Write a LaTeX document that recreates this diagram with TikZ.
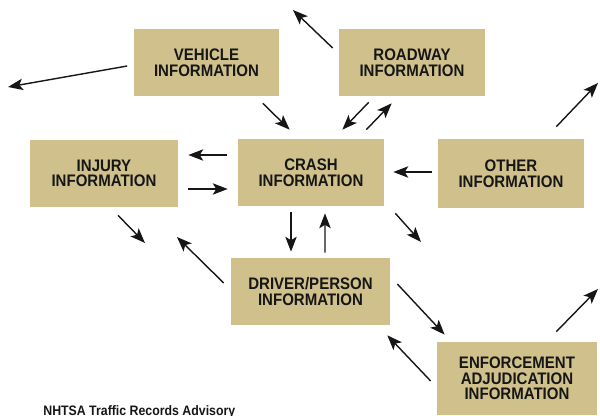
\documentclass[tikz,border=0pt]{standalone}
\usepackage{fontspec}
\usepackage{xcolor}
\usepackage{tikz}
\usetikzlibrary{arrows.meta}
\newfontfamily\boxfont{Liberation Sans}[FakeStretch=0.9]
\definecolor{boxtan}{RGB}{207,192,140}
\definecolor{inkblack}{RGB}{22,22,22}
\tikzset {
  % tan information boxes
  info/.style = {fill=boxtan, text=inkblack, align=center, inner sep=0pt,
    minimum width=2.92cm, minimum height=1.34cm,
    font=\boxfont\bfseries\fontsize{9.5}{8.9}\selectfont},
  % wider boxes
  wide/.style = {minimum width=3.18cm},
  % data flow arrows
  flow/.style = {draw=inkblack, line width=0.8pt,
    -{Stealth[length=8.5pt, width=6.5pt, inset=2pt]}},
}

\begin{document}
\begin{tikzpicture}[x=0.02cm, y=-0.02cm]
        \useasboundingbox (0,0) rectangle (600,416);

        \node[info] (vehicle) at (206.5, 62.5) {VEHICLE\\INFORMATION};
        \node[info] (roadway) at (412, 62.5) {ROADWAY\\INFORMATION};
        \node[info, minimum width=2.96cm] (injury) at (104, 173.5) {INJURY\\INFORMATION};
        \node[info] (crash) at (311, 172.5) {CRASH\\INFORMATION};
        \node[info, minimum height=1.38cm] (other) at (511, 173.5) {OTHER\\INFORMATION};
        \node[info, wide] (driver) at (310.5, 291.5) {DRIVER/PERSON\\INFORMATION};
        \node[info, minimum width=3.2cm, minimum height=1.46cm] (enforce) at (517, 378.5)
          {ENFORCEMENT\\ADJUDICATION\\INFORMATION};

        % loose ends of the outgoing arrows
        \coordinate (vehicle out) at (8, 87);
        \coordinate (roadway out) at (293, 10);
        \coordinate (other out) at (598, 83);
        \coordinate (crash out) at (421, 242);
        \coordinate (injury out) at (145, 243);
        \coordinate (driver out) at (177, 237);
        \coordinate (enforce out) at (598, 289);

        \draw [flow] ([shift={(-6,3.5)}]vehicle.west) -- (vehicle out);
        \draw [flow] ([shift={(-17,7)}]vehicle.south east) -- ([shift={(52,-9)}]crash.north west);

        \draw [flow] ([shift={(-6,-14.5)}]roadway.west) -- (roadway out);
        \draw [flow] ([shift={(30,6)}]roadway.south west) -- ([shift={(-42,-9)}]crash.north east);
        \draw [flow] ([shift={(-18,-9)}]crash.north east) -- ([shift={(53,7)}]roadway.south west);

        \draw [flow] ([shift={(-11,-17.5)}]crash.west) -- ([shift={(10,-18.5)}]injury.east);
        \draw [flow] ([shift={(10,15.5)}]injury.east) -- ([shift={(-10,16.5)}]crash.west);
        \draw [flow] ([shift={(14,8)}]injury.south) -- (injury out);

        \draw [flow] ([shift={(-6,-1.5)}]other.west) -- ([shift={(9,-0.5)}]crash.east);
        \draw [flow] ([shift={(-28,-12)}]other.north east) -- (other out);

        \draw [flow] ([shift={(11,7)}]crash.south east) -- (crash out);
        \draw [flow] ([shift={(-20,6)}]crash.south) -- ([shift={(-19.5,-6)}]driver.north);
        \draw [flow] ([shift={(14.5,-5)}]driver.north) -- ([shift={(14,7)}]crash.south);

        \draw [flow] ([shift={(-7,-8.5)}]driver.west) -- (driver out);
        \draw [flow] ([shift={(7,-7.5)}]driver.east) -- ([shift={(8,-7)}]enforce.north west);
        \draw [flow] ([shift={(-6,2.5)}]enforce.west) -- ([shift={(-3,10)}]driver.south east);
        \draw [flow] ([shift={(-41,-10)}]enforce.north east) -- (enforce out);

        \node[anchor=base west, text=inkblack, inner sep=0pt,
          font=\boxfont\bfseries\fontsize{7.8}{9}\selectfont] (source) at (43, 415)
          {NHTSA Traffic Records Advisory};
      \end{tikzpicture}
\end{document}
